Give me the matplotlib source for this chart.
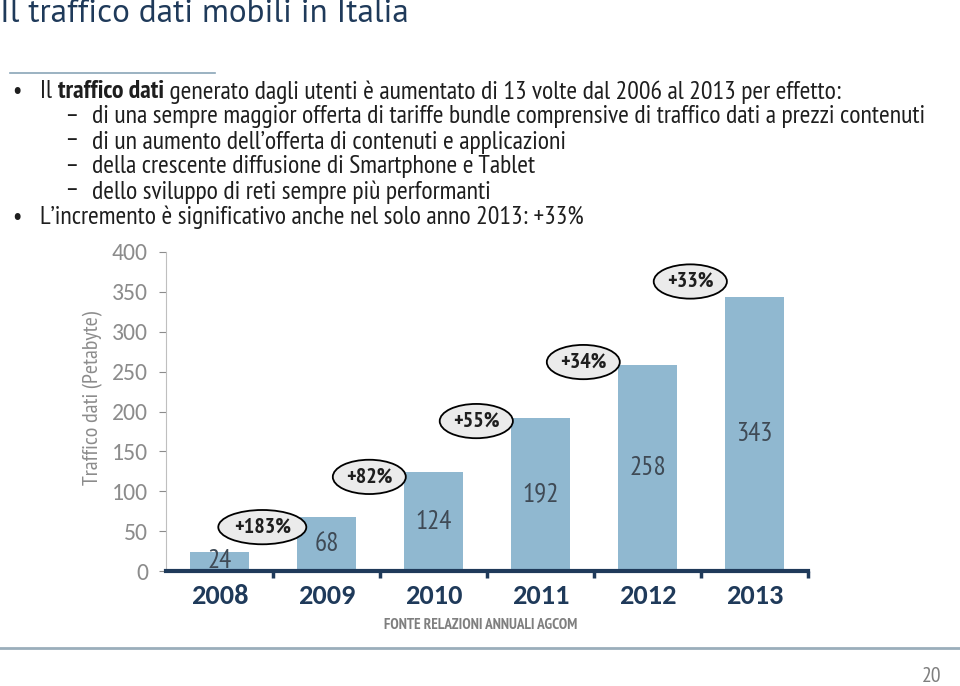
import matplotlib
matplotlib.use('Agg')
import matplotlib.pyplot as plt
from matplotlib import font_manager
from matplotlib.transforms import blended_transform_factory

# data
years = ['2008', '2009', '2010', '2011', '2012', '2013']
traffic = [24, 68, 124, 192, 258, 343]
growth = ['+183%', '+82%', '+55%', '+34%', '+33%']
growth_y = [55, 118, 188, 262, 363]   # where the growth bubbles sit (data units)
yticks = [0, 50, 100, 150, 200, 250, 300, 350, 400]

names = {f.name for f in font_manager.fontManager.ttflist}
def pick(cands):
    return next(f for f in cands + ['DejaVu Sans'] if f in names)
body_font = pick(['PT Sans Narrow', 'Ubuntu Condensed', 'Roboto Condensed', 'Liberation Sans Narrow', 'Roboto'])
title_font = pick(['PT Sans', 'Open Sans', 'Noto Sans'])
axis_font = pick(['Carlito', 'Open Sans', 'Lato'])
plt.rcParams['font.family'] = [body_font, 'DejaVu Sans']

navy = '#1f3a5a'
grey = '#7f7f7f'
dark = '#1e1e1e'
bar_col = '#90b8d0'

fig = plt.figure(figsize=(9.6, 6.86), dpi=100)
rend = fig.canvas.get_renderer()

def fit(t, length_px, vertical=False):
    # scale font size so the text spans the length seen in the reference
    bb = t.get_window_extent(renderer=rend)
    w = bb.height if vertical else bb.width
    t.set_fontsize(t.get_fontsize() * length_px / w)
    return t

def put(x, y, s, **kw):
    return fig.text(x / 960, 1 - y / 686, s, **kw)

# title and rules
t = put(0, 14, 'Il traffico dati mobili in Italia', fontsize=22, color=navy,
        family=[title_font, 'DejaVu Sans'], va='center', ha='left')
fit(t, 410)
fig.add_artist(plt.Line2D([10/960, 215/960], [1 - 73/686] * 2, color='#8aa5b8', lw=1.2))
fig.add_artist(plt.Line2D([0, 1], [1 - 648/686] * 2, color='#9aaebb', lw=2))

# bullet text
probe = put(92, 117, 'di una sempre maggior offerta di tariffe bundle comprensive di traffico dati a prezzi contenuti',
            fontsize=14, color=dark, va='center', ha='left')
fit(probe, 835)
fs = probe.get_fontsize()

def rich(y, x, parts):
    xx = x
    for s, w in parts:
        t = put(xx, y, s, fontsize=fs, color=dark, fontweight=w, va='center', ha='left')
        xx = t.get_window_extent(renderer=rend).x1

put(12, 92, '•', fontsize=fs, color=dark, va='center')
rich(92, 40, [('Il ', 'normal'), ('traffico dati', 'bold'),
              (' generato dagli utenti è aumentato di 13 volte dal 2006 al 2013 per effetto:', 'normal')])
subs = ['di un aumento dell’offerta di contenuti e applicazioni',
        'della crescente diffusione di Smartphone e Tablet',
        'dello sviluppo di reti sempre più performanti']
put(66, 117, '−', fontsize=fs, color=dark, va='center')
for i, s in enumerate(subs):
    y = 142 + i * 25
    put(66, y, '−', fontsize=fs, color=dark, va='center')
    put(92, y, s, fontsize=fs, color=dark, va='center')
put(12, 217, '•', fontsize=fs, color=dark, va='center')
put(40, 217, 'L’incremento è significativo anche nel solo anno 2013: +33%',
    fontsize=fs, color=dark, va='center')

# chart
ax = fig.add_axes([166/960, 1 - 571/686, 642/960, 319/686])
x = list(range(len(years)))
ax.bar(x, traffic, width=0.56, color=bar_col, zorder=2)
lab_fs = fs * 1.05
for i, v in enumerate(traffic):
    ax.text(i, v / 2, str(v), ha='center', va='center', fontsize=lab_fs, color='#3f4a55')
g_fs = fs * 0.85
for i, (g, gy) in enumerate(zip(growth, growth_y)):
    ax.text(i + 0.4, gy, g, ha='center', va='center', fontsize=g_fs, fontweight='bold',
            color=dark,
            bbox=dict(boxstyle='ellipse,pad=0.12', fc='#ebebeb', ec='black', lw=1.3))

ax.set_xlim(-0.5, len(years) - 0.5)
ax.set_ylim(0, 400)
ax.set_yticks(yticks)
ax.set_yticklabels([str(v) for v in yticks], family=[axis_font, 'DejaVu Sans'])
ax.tick_params(axis='y', colors='#8c8c8c', labelsize=fs * 0.92, length=5, pad=8)

# year labels (baseline aligned) and separator ticks between categories
ax.set_xticks([])
ax.set_xticks([i + 0.5 for i in x], minor=True)
ax.tick_params(axis='x', which='minor', direction='out', length=5, width=2.5, color=navy)
trans = blended_transform_factory(ax.transData, ax.transAxes)
for i, yr in enumerate(years):
    ax.text(i, -0.104, yr, transform=trans, ha='center', va='baseline',
            fontsize=fs * 1.1, fontweight='bold', color=navy, family=[axis_font, 'DejaVu Sans'])

for s in ['top', 'right']:
    ax.spines[s].set_visible(False)
ax.spines['left'].set_color('#bfbfbf')
ax.spines['bottom'].set_color(navy)
ax.spines['bottom'].set_linewidth(3)
yl = fig.text(93/960, 1 - 398/686, 'Traffico dati (Petabyte)', fontsize=fs, color='#8c8c8c',
              rotation=90, ha='center', va='center')
fit(yl, 175, vertical=True)

src = put(481, 625, 'FONTE RELAZIONI ANNUALI AGCOM', fontsize=10, color=grey,
          fontweight='bold', ha='center', va='center')
fit(src, 194)
put(932, 676, '20', fontsize=fs * 0.85, color=grey, ha='center', va='center')

fig.savefig('out.png', dpi=100)
